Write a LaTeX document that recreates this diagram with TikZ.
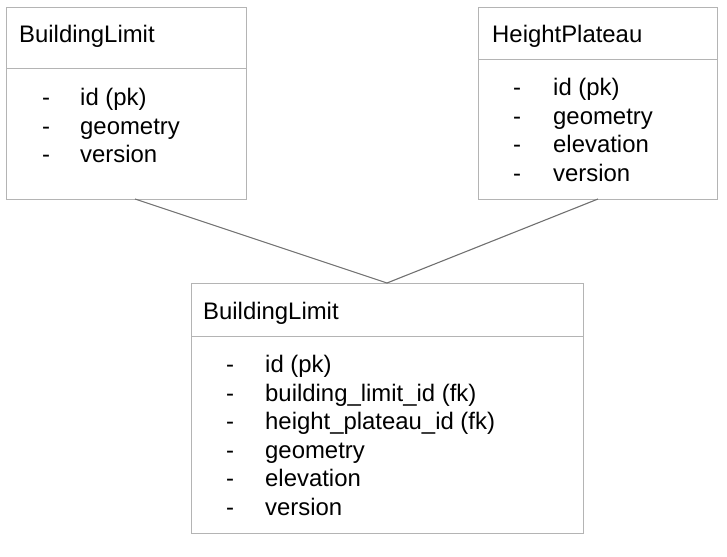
\documentclass[tikz,border=0pt]{standalone}
\usepackage{fontspec}
\setmainfont{Liberation Sans}
\begin{document}
\begin{tikzpicture}[x=1pt,y=-1pt,
  tbl/.style={draw=boxgray,line width=1.2pt,rectangle,inner sep=0pt,anchor=north west},
  sep/.style={draw=boxgray,line width=1pt},
  conn/.style={draw=linegray,line width=1.1pt},
  txt/.style={anchor=base west,inner sep=0pt,font=\fontsize{23.9}{28}\selectfont,text=black}]
\definecolor{boxgray}{HTML}{B4B4B4}
\definecolor{linegray}{HTML}{707070}
\useasboundingbox (0,0) rectangle (727,556);
% boxes
\node[tbl,minimum width=240pt,minimum height=192pt] (b1) at (6,7) {};
\node[tbl,minimum width=239pt,minimum height=192pt] (b2) at (478,7) {};
\node[tbl,minimum width=392pt,minimum height=250pt] (b3) at (191,283) {};
\draw[sep] (6,69) -- (246,69);
\draw[sep] (478,60) -- (717,60);
\draw[sep] (191,336) -- (583,336);
% box 1
\node[txt] (t1) at (19,42.5) {BuildingLimit};
\node[txt] (d11) at (42,106) {-};   \node[txt] (i11) at (80,106) {id (pk)};
\node[txt] (d12) at (42,134.5) {-}; \node[txt] (i12) at (80,134.5) {geometry};
\node[txt] (d13) at (42,163) {-};   \node[txt] (i13) at (80,163) {version};
% box 2
\node[txt] (t2) at (492,42.5) {HeightPlateau};
\node[txt] (d21) at (513,96) {-};    \node[txt] (i21) at (553,96) {id (pk)};
\node[txt] (d22) at (513,124.5) {-}; \node[txt] (i22) at (553,124.5) {geometry};
\node[txt] (d23) at (513,153) {-};   \node[txt] (i23) at (553,153) {elevation};
\node[txt] (d24) at (513,181.5) {-}; \node[txt] (i24) at (553,181.5) {version};
% box 3
\node[txt] (t3) at (203,319.5) {BuildingLimit};
\node[txt] (d31) at (226,372.5) {-};   \node[txt] (i31) at (265,372.5) {id (pk)};
\node[txt] (d32) at (226,401) {-}; \node[txt] (i32) at (265,401) {building\_limit\_id (fk)};
\node[txt] (d33) at (226,429.5) {-};   \node[txt] (i33) at (265,429.5) {height\_plateau\_id (fk)};
\node[txt] (d34) at (226,458) {-}; \node[txt] (i34) at (265,458) {geometry};
\node[txt] (d35) at (226,486.5) {-};   \node[txt] (i35) at (265,486.5) {elevation};
\node[txt] (d36) at (226,515) {-}; \node[txt] (i36) at (265,515) {version};
% connectors
\coordinate (c1) at (135,199);
\coordinate (c2) at (598,199);
\coordinate (c3) at (387,283);
\draw[conn] (c1) -- (c3);
\draw[conn] (c2) -- (c3);
\end{tikzpicture}
\end{document}
